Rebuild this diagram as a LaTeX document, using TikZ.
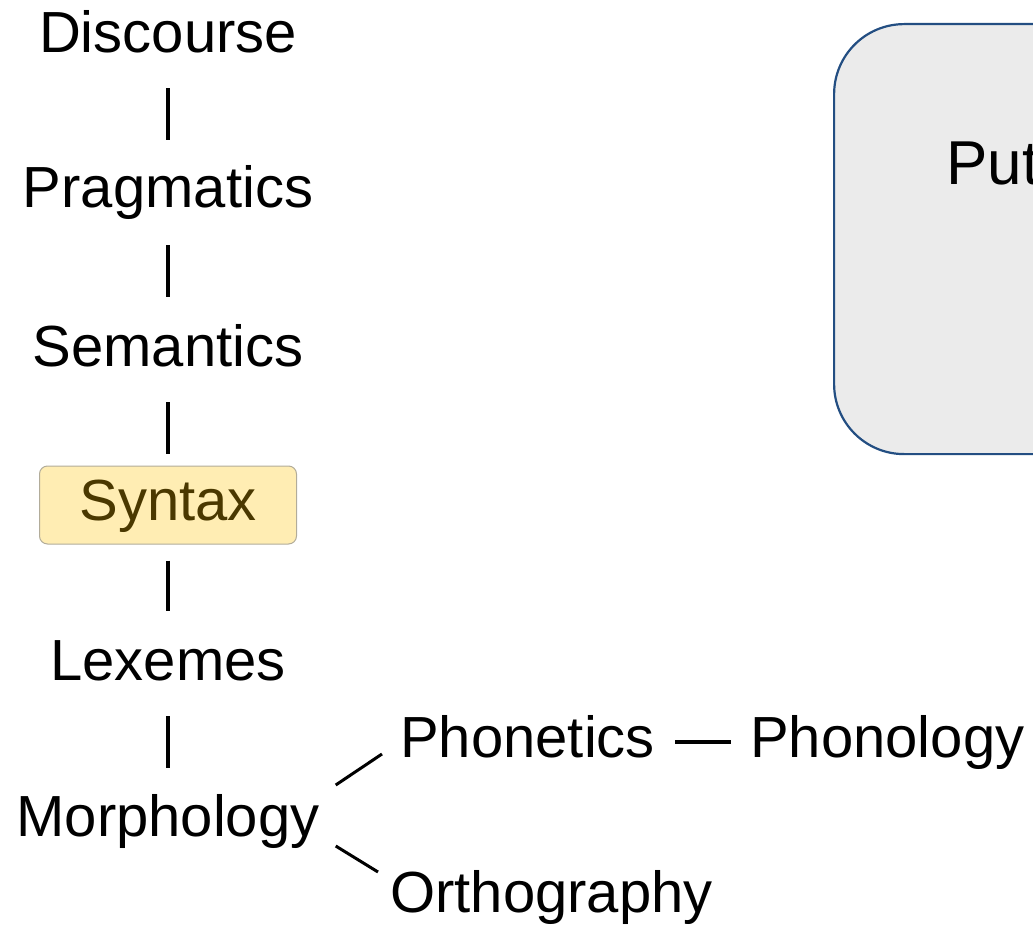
\documentclass[tikz,border=0pt]{standalone}
\usepackage{fontspec}
\setmainfont{Liberation Sans}
\definecolor{boxfill}{HTML}{EBEBEB}
\definecolor{boxline}{HTML}{234E82}
\definecolor{synfill}{HTML}{FFEDB3}
\definecolor{synline}{HTML}{B2AC9A}
\definecolor{syntext}{HTML}{4A3800}
\tikzset{
  lvl/.style={font=\fontsize{58}{70}\selectfont, inner sep=0pt, text height=42pt, text depth=12pt, anchor=base},
  vbar/.style={line width=4pt, black},
  diag/.style={line width=3pt, black},
  hlbox/.style={lvl, anchor=center, fill=synfill, draw=synline, line width=1pt, rounded corners=8pt, minimum width=257pt, minimum height=78pt, text=syntext},
  bigbox/.style={fill=boxfill, draw=boxline, line width=2.2pt, rounded corners=70pt, minimum width=400pt, minimum height=430pt, anchor=north west},
}
\begin{document}
\begin{tikzpicture}[x=1pt, y=-1pt]
\path[use as bounding box, clip] (0,0) rectangle (1033,925);
\node[bigbox] (box) at (833,23) {};
\node[lvl, font=\fontsize{62}{74}\selectfont, anchor=base west] (put) at (946,185) {Put};
\node[lvl] (disc) at (168,53) {Discourse};
\node[lvl] (prag) at (168,208) {Pragmatics};
\node[lvl] (sem) at (168,366) {Semantics};
\node[hlbox] (syn) at (168,505) {Syntax};
\node[lvl] (lex) at (168,680) {Lexemes};
\node[lvl] (morph) at (168,836) {Morphology};
\node[lvl, anchor=base west] (phon) at (400,757) {Phonetics};
\node[lvl, anchor=base west] (phonol) at (750,757) {Phonology};
\node[lvl, anchor=base west] (orth) at (390,912) {Orthography};
\draw[vbar, shorten <=23pt, shorten >=26pt] (disc) -- (prag);
\draw[vbar, shorten <=25pt, shorten >=27pt] (prag) -- (sem);
\draw[vbar, shorten <=24pt, shorten >=12pt] (sem) -- (syn);
\draw[vbar, shorten <=16pt, shorten >=27pt] (syn) -- (lex);
\draw[vbar, shorten <=24pt, shorten >=26pt] (lex) -- (morph);
\draw[line width=3.5pt, shorten <=20pt, shorten >=19pt] (phon) -- (phonol);
\draw[diag] ([xshift=16pt, yshift=36pt]morph.east) -- ([xshift=-18pt, yshift=-12pt]phon.west);
\draw[diag] ([xshift=16pt, yshift=-25pt]morph.east) -- ([xshift=-12pt, yshift=25pt]orth.west);
\end{tikzpicture}
\end{document}
